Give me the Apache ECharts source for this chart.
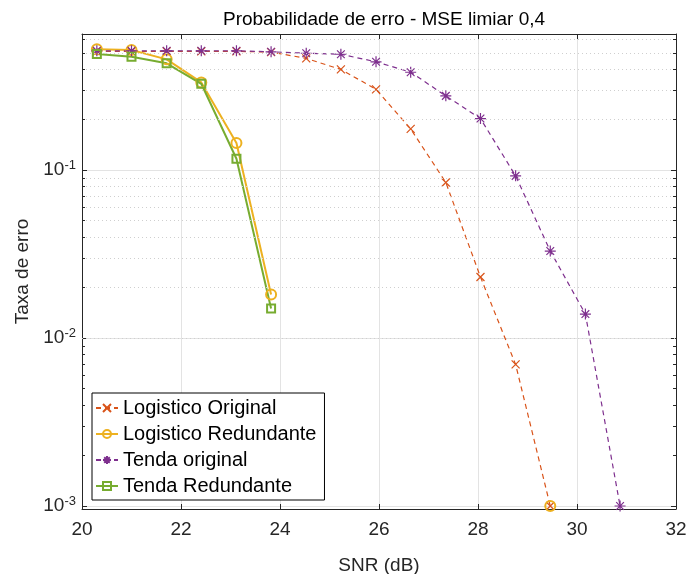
<!DOCTYPE html>
<html>
<head>
<meta charset="utf-8">
<script src="https://cdn.jsdelivr.net/npm/echarts@6/dist/echarts.min.js"></script>
<style>
  html, body { margin: 0; padding: 0; background: #fff; }
  #chart { width: 687px; height: 574px; }
</style>
</head>
<body>
<div id="chart"></div>
<script>
// SNR (dB) em cada ponto medido
var snr = [20.3, 21.0, 21.71, 22.41, 23.12, 23.82, 24.53, 25.23, 25.94, 26.64, 27.35, 28.05, 28.76, 29.46, 30.17, 30.87];

// taxas de erro (null = zero, nao aparece em escala log)
var logisticoOriginal   = [0.51, 0.51, 0.51, 0.51, 0.51, 0.505, 0.463, 0.398, 0.303, 0.176, 0.0845, 0.0231, 0.00697, 0.001, null, null];
var logisticoRedundante = [0.525, 0.52, 0.457, 0.333, 0.145, 0.0182, null, null, null, null, null, null, null, 0.001, null, null];
var tendaOriginal       = [0.514, 0.514, 0.514, 0.514, 0.514, 0.507, 0.497, 0.49, 0.442, 0.383, 0.277, 0.203, 0.0925, 0.033, 0.0139, 0.001];
var tendaRedundante     = [0.492, 0.474, 0.433, 0.327, 0.117, 0.015, null, null, null, null, null, null, null, null, null, null];

var nomes = ['Logistico Original', 'Logistico Redundante', 'Tenda original', 'Tenda Redundante'];

// linhas pontilhadas da grade secundaria (2..9 de cada decada)
var gradeMenor = [0.002, 0.003, 0.004, 0.005, 0.006, 0.007, 0.008, 0.009,
                  0.02, 0.03, 0.04, 0.05, 0.06, 0.07, 0.08, 0.09,
                  0.2, 0.3, 0.4, 0.5, 0.6];

function pares(ys) {
    return snr.map(function (x, i) { return [x, ys[i] == null ? '-' : ys[i]]; });
}

// pequenos tracos internos nas bordas esquerda e direita (ticks menores)
function tracos(x0, x1) {
    return gradeMenor.map(function (v) { return [{ coord: [x0, v] }, { coord: [x1, v] }]; });
}

var fonte = '"Liberation Sans", Arial, Helvetica, sans-serif';
var corEixo = '#262626';
var yMin = 0.00096, yMax = 0.647;

function rotuloLog(v) {
    var e = Math.log10(v);
    var n = Math.round(e);
    if (Math.abs(e - n) > 0.01) return '';
    return '{b|10}{s|' + n + '}';
}

var myChart = echarts.init(document.getElementById('chart'));
var option = {
    animation: false,
    backgroundColor: '#fff',
    title: {
        text: 'Probabilidade de erro - MSE limiar 0,4',
        left: 379,
        top: 5,
        textAlign: 'center',
        textStyle: { fontFamily: fonte, fontSize: 19, fontWeight: 'normal', color: '#000' }
    },
    legend: {
        data: nomes,
        orient: 'vertical',
        left: 92,
        top: 393,
        padding: [4, 8, 3, 3],
        itemWidth: 22,
        itemHeight: 10,
        itemGap: 4,
        backgroundColor: '#fff',
        borderColor: '#000',
        borderWidth: 1,
        borderRadius: 0,
        textStyle: { fontFamily: fonte, fontSize: 20, color: '#000', lineHeight: 22 }
    },
    grid: { left: 82, right: 11, top: 34, bottom: 65, containLabel: false, outerBoundsMode: 'none' },
    xAxis: [{
        type: 'value',
        min: 20, max: 32, interval: 2,
        name: 'SNR (dB)',
        nameLocation: 'middle',
        nameGap: 47,
        nameTextStyle: { fontFamily: fonte, fontSize: 19, color: corEixo },
        axisLine: { show: true, onZero: false, lineStyle: { color: corEixo, width: 1 } },
        axisTick: { show: true, inside: true, length: 5, lineStyle: { color: corEixo } },
        axisLabel: { fontFamily: fonte, fontSize: 19, color: corEixo, margin: 11 },
        splitLine: { show: true, lineStyle: { color: '#e3e3e3', width: 1 } }
    }, {
        type: 'value',
        position: 'top',
        min: 20, max: 32, interval: 2,
        axisLine: { show: true, onZero: false, lineStyle: { color: corEixo, width: 1 } },
        axisTick: { show: true, inside: true, length: 5, lineStyle: { color: corEixo } },
        axisLabel: { show: false },
        splitLine: { show: false }
    }],
    yAxis: [{
        type: 'log',
        logBase: 10,
        min: yMin, max: yMax,
        name: 'Taxa de erro',
        nameLocation: 'middle',
        nameGap: 50,
        nameTextStyle: { fontFamily: fonte, fontSize: 19, color: corEixo },
        axisLine: { show: true, onZero: false, lineStyle: { color: corEixo, width: 1 } },
        axisTick: { show: true, inside: true, length: 5, lineStyle: { color: corEixo } },
        axisLabel: {
            margin: 6,
            formatter: rotuloLog,
            rich: {
                b: { fontFamily: fonte, fontSize: 19, color: corEixo },
                s: { fontFamily: fonte, fontSize: 13, color: corEixo, padding: [0, 0, 10, 0] }
            }
        },
        splitLine: { show: true, lineStyle: { color: '#e3e3e3', width: 1 } }
    }, {
        type: 'log',
        logBase: 10,
        position: 'right',
        min: yMin, max: yMax,
        axisLine: { show: true, onZero: false, lineStyle: { color: corEixo, width: 1 } },
        axisTick: { show: true, inside: true, length: 5, lineStyle: { color: corEixo } },
        axisLabel: { show: false },
        splitLine: { show: false }
    }],
    series: [
        {
            name: 'grade',
            type: 'line',
            data: [],
            silent: true,
            z: 1,
            markLine: {
                silent: true,
                symbol: 'none',
                animation: false,
                label: { show: false },
                lineStyle: { color: '#cfcfcf', width: 1, type: [1, 3] },
                data: gradeMenor.map(function (v) { return { yAxis: v }; })
            }
        },
        {
            name: 'tracos',
            type: 'line',
            data: [],
            silent: true,
            z: 2,
            markLine: {
                silent: true,
                symbol: 'none',
                animation: false,
                label: { show: false },
                lineStyle: { color: corEixo, width: 1, type: 'solid' },
                data: tracos(20, 20.06).concat(tracos(31.94, 32))
            }
        },
        {
            name: nomes[0],
            type: 'line',
            data: pares(logisticoOriginal),
            symbol: 'path://M0,0L10,10M10,0L0,10',
            symbolSize: 8,
            z: 3,
            lineStyle: { color: '#D95319', width: 1.2, type: [5, 4] },
            itemStyle: { color: 'transparent', borderColor: '#D95319', borderWidth: 1.2 }
        },
        {
            name: nomes[1],
            type: 'line',
            data: pares(logisticoRedundante),
            symbol: 'circle',
            symbolSize: 10,
            z: 3,
            lineStyle: { color: '#EDB120', width: 2 },
            itemStyle: { color: 'transparent', borderColor: '#EDB120', borderWidth: 2 }
        },
        {
            name: nomes[2],
            type: 'line',
            data: pares(tendaOriginal),
            symbol: 'path://M5,0L5,10M0,5L10,5M1.5,1.5L8.5,8.5M8.5,1.5L1.5,8.5',
            symbolSize: 11,
            z: 3,
            lineStyle: { color: '#7E2F8E', width: 1.2, type: [5, 4] },
            itemStyle: { color: 'transparent', borderColor: '#7E2F8E', borderWidth: 1.2 }
        },
        {
            name: nomes[3],
            type: 'line',
            data: pares(tendaRedundante),
            symbol: 'rect',
            symbolSize: 8,
            z: 3,
            lineStyle: { color: '#77AC30', width: 2 },
            itemStyle: { color: 'transparent', borderColor: '#77AC30', borderWidth: 2 }
        }
    ]
};
myChart.setOption(option);
window.addEventListener('resize', function () { myChart.resize(); }, false);
</script>
</body>
</html>
